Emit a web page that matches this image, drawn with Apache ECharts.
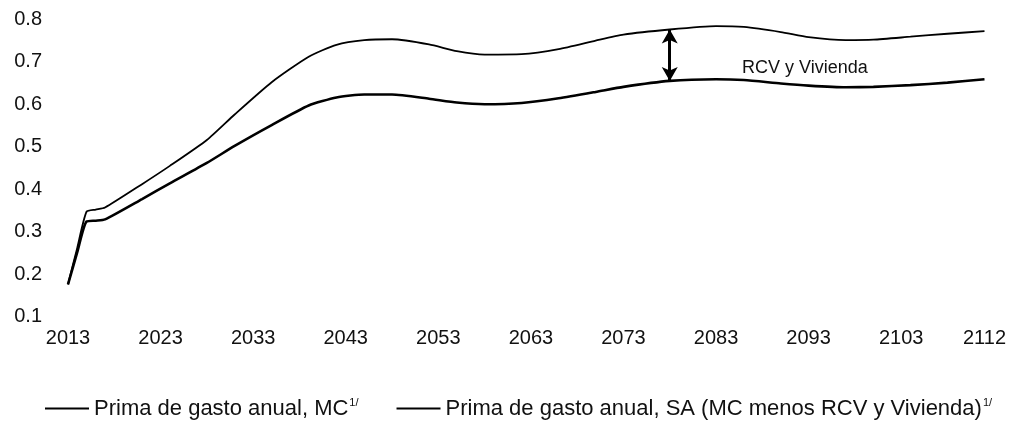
<!DOCTYPE html>
<html>
<head>
<meta charset="utf-8">
<script src="https://cdn.jsdelivr.net/npm/echarts@6/dist/echarts.min.js"></script>
<style>
  html, body { margin: 0; padding: 0; background: #fff; }
  #chart { width: 1009px; height: 422px; }
</style>
</head>
<body>
<div id="chart"></div>
<script>
// Years at which values were read
const years = [2013, 2014, 2015, 2016, 2017, 2021, 2024, 2028, 2031, 2035, 2039, 2042, 2045, 2048, 2052, 2055, 2058, 2062, 2066, 2070, 2073, 2078, 2083, 2086, 2090, 2093, 2097, 2100, 2104, 2108, 2112];
// Prima de gasto anual, MC
const mcValues = [0.176, 0.262, 0.347, 0.352, 0.357, 0.412, 0.455, 0.516, 0.576, 0.652, 0.712, 0.740, 0.751, 0.753, 0.741, 0.725, 0.717, 0.718, 0.730, 0.750, 0.764, 0.776, 0.784, 0.782, 0.770, 0.758, 0.751, 0.752, 0.759, 0.766, 0.772];
// Prima de gasto anual, SA
const saValues = [0.176, 0.252, 0.324, 0.326, 0.329, 0.377, 0.414, 0.462, 0.502, 0.551, 0.597, 0.616, 0.623, 0.623, 0.613, 0.604, 0.600, 0.603, 0.614, 0.629, 0.641, 0.655, 0.659, 0.657, 0.649, 0.644, 0.640, 0.641, 0.645, 0.651, 0.659];
// Axis tick labels
const xTickYears = [2013, 2023, 2033, 2043, 2053, 2063, 2073, 2083, 2093, 2103, 2112];
const yTicks = [0.1, 0.2, 0.3, 0.4, 0.5, 0.6, 0.7, 0.8];
// Annotation
const arrowYear = 2078;
const arrowTop = 0.776;
const arrowBottom = 0.655;
const annotationText = 'RCV y Vivienda';
const annotationPos = [2092.6, 0.685];

const seriesNames = ['Prima de gasto anual, MC', 'Prima de gasto anual, SA (MC menos RCV y Vivienda)'];

const mcData = years.map((y, i) => [y, mcValues[i]]);
const saData = years.map((y, i) => [y, saValues[i]]);

const FONT = '"Liberation Sans", Arial, Helvetica, sans-serif';

const chart = echarts.init(document.getElementById('chart'), null, { renderer: 'canvas' });
chart.setOption({
  animation: false,
  backgroundColor: '#ffffff',
  textStyle: { fontFamily: FONT, color: '#111' },
  grid: { left: 68, right: 20, top: 19.3, bottom: 105.3, containLabel: false },
  xAxis: {
    type: 'value',
    min: 2013,
    max: 2112,
    axisLine: { show: false },
    axisTick: { show: false },
    splitLine: { show: false },
    axisLabel: {
      customValues: xTickYears,
      fontSize: 20,
      color: '#111',
      fontFamily: FONT,
      margin: 12,
      showMinLabel: true,
      showMaxLabel: true,
      formatter: v => String(v)
    }
  },
  yAxis: {
    type: 'value',
    min: 0.1,
    max: 0.8,
    axisLine: { show: false },
    axisTick: { show: false },
    splitLine: { show: false },
    axisLabel: {
      customValues: yTicks,
      fontSize: 20,
      color: '#111',
      fontFamily: FONT,
      margin: 26,
      formatter: v => v.toFixed(1)
    }
  },
  legend: {
    left: 45,
    top: 397,
    width: 1000,
    padding: 0,
    itemGap: 38,
    itemWidth: 44,
    itemHeight: 2,
    icon: 'rect',
    data: seriesNames,
    formatter: name => '{t|' + name + '}{s|1/}',
    textStyle: {
      color: '#111',
      fontFamily: FONT,
      rich: {
        t: { fontSize: 22, color: '#111', fontFamily: FONT },
        s: { fontSize: 11, color: '#111', fontFamily: FONT, verticalAlign: 'top', padding: [0, 0, 12, 1] }
      }
    }
  },
  series: [
    {
      name: seriesNames[0],
      type: 'line',
      data: mcData,
      smooth: 0.2,
      symbol: 'none',
      lineStyle: { color: '#000', width: 1.8 },
      itemStyle: { color: '#000' },
      markLine: {
        silent: true,
        symbol: ['arrow', 'arrow'],
        symbolSize: [12, 14],
        label: { show: false },
        lineStyle: { color: '#000', width: 3, type: 'solid' },
        data: [[{ coord: [arrowYear, arrowTop] }, { coord: [arrowYear, arrowBottom] }]]
      },
      markPoint: {
        silent: true,
        symbol: 'circle',
        symbolSize: 0,
        label: { show: true, position: 'inside', formatter: annotationText, fontSize: 18, color: '#111', fontFamily: FONT },
        data: [{ coord: annotationPos }]
      }
    },
    {
      name: seriesNames[1],
      type: 'line',
      data: saData,
      smooth: 0.2,
      symbol: 'none',
      lineStyle: { color: '#000', width: 2.6 },
      itemStyle: { color: '#000' }
    }
  ]
});
</script>
</body>
</html>
